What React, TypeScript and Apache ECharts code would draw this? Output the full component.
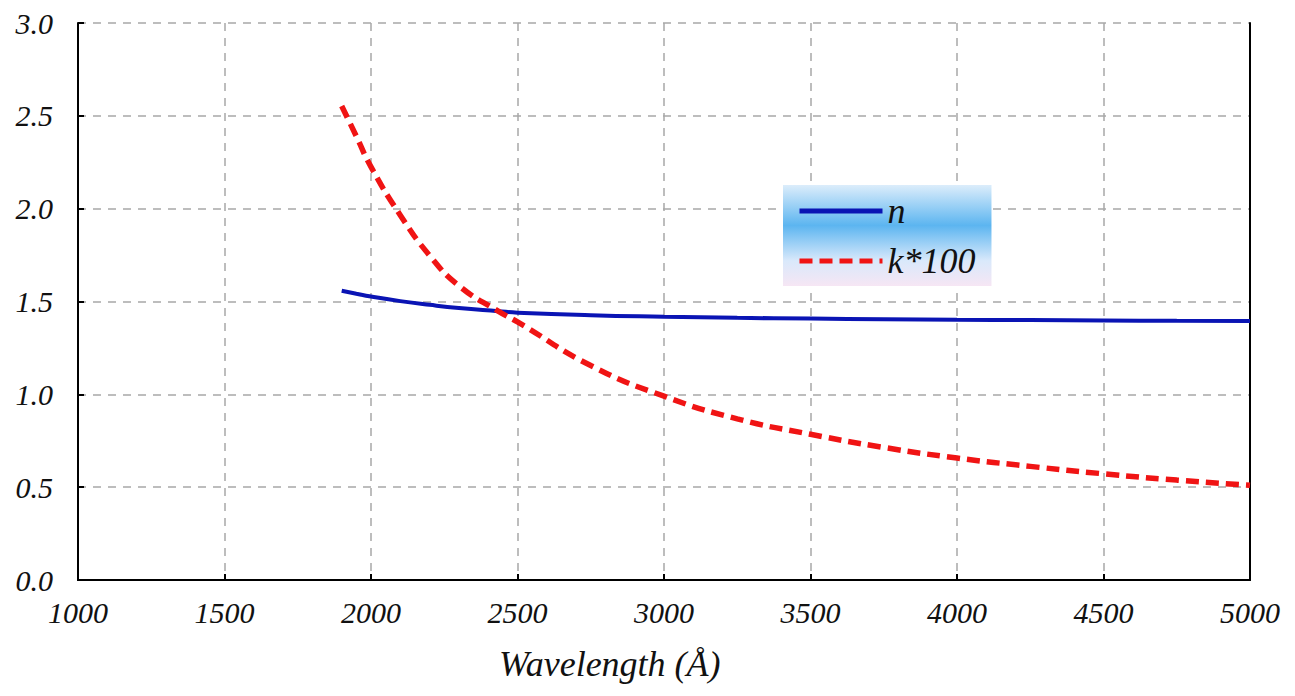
import React, { useEffect, useRef } from "react";
import * as echarts from "echarts";

const wavelengths = [1900, 1950, 2000, 2100, 2200, 2300, 2434, 2500, 2750, 3000, 3250, 3500, 3750, 4000, 4250, 4500, 4750, 5000];
const nValues = [1.558, 1.542, 1.527, 1.502, 1.482, 1.465, 1.448, 1.44, 1.426, 1.418, 1.412, 1.408, 1.405, 1.402, 1.4, 1.398, 1.396, 1.395];
const k100Values = [2.553, 2.39, 2.225, 1.965, 1.748, 1.585, 1.448, 1.39, 1.155, 0.99, 0.868, 0.785, 0.714, 0.657, 0.612, 0.572, 0.538, 0.51];
const seriesNames = ["n", "k*100"];
const xAxisTitle = "Wavelength (Å)";

const FONT = "'Liberation Serif', 'DejaVu Serif', serif";

export default function App() {
  const ref = useRef<HTMLDivElement>(null);
  useEffect(() => {
    if (!ref.current) return;
    const chart = echarts.init(ref.current, undefined, { renderer: "svg" });
    const labelStyle = { fontFamily: FONT, fontStyle: "italic" as const, fontSize: 30, color: "#111" };
    const borderAxis = {
      axisLine: { show: true, lineStyle: { color: "#000", width: 2 } },
      axisTick: { show: false },
      axisLabel: { show: false },
      splitLine: { show: false },
    };
    chart.setOption({
      animation: false,
      backgroundColor: "#fff",
      grid: { left: 78, right: 45, top: 23, bottom: 116 },
      xAxis: [
        {
          type: "value", min: 1000, max: 5000, interval: 500,
          axisLine: { show: true, lineStyle: { color: "#000", width: 2 } },
          axisTick: { show: true, inside: true, length: 6, lineStyle: { color: "#000", width: 2 } },
          axisLabel: { ...labelStyle, margin: 17, formatter: (v: number) => String(v) },
          splitLine: { show: true, lineStyle: { color: "#a8a8a8", width: 1.5, type: [8, 7] } },
        },
        { type: "value", min: 1000, max: 5000, interval: 500, position: "top", ...borderAxis },
      ],
      yAxis: [
        {
          type: "value", min: 0, max: 3, interval: 0.5,
          axisLine: { show: true, lineStyle: { color: "#000", width: 2 } },
          axisTick: { show: true, inside: true, length: 6, lineStyle: { color: "#000", width: 2 } },
          axisLabel: { ...labelStyle, margin: 25, formatter: (v: number) => v.toFixed(1) },
          splitLine: { show: true, lineStyle: { color: "#a8a8a8", width: 1.5, type: [8, 7] } },
        },
        { type: "value", min: 0, max: 3, interval: 0.5, position: "right", ...borderAxis },
      ],
      legend: {
        orient: "vertical",
        left: 783, top: 185,
        padding: [8, 16, 7, 14],
        itemGap: 14,
        itemWidth: 83,
        itemHeight: 14,
        data: seriesNames,
        itemStyle: { opacity: 0 },
        lineStyle: { width: 5 },
        textStyle: { fontFamily: FONT, fontStyle: "italic", fontSize: 36, color: "#111" },
        backgroundColor: new echarts.graphic.LinearGradient(0, 0, 0, 1, [
          { offset: 0, color: "#dcedfb" },
          { offset: 0.4, color: "#5cb5f0" },
          { offset: 0.75, color: "#d9e9fb" },
          { offset: 1, color: "#f6e6f4" },
        ]),
      },
      series: [
        {
          name: seriesNames[0], type: "line", smooth: true, symbol: "none",
          data: wavelengths.map((w, i) => [w, nValues[i]]),
          lineStyle: { color: "#0a14b4", width: 4 },
          itemStyle: { color: "#0a14b4" },
        },
        {
          name: seriesNames[1], type: "line", smooth: true, symbol: "none",
          data: wavelengths.map((w, i) => [w, k100Values[i]]),
          lineStyle: { color: "#f01414", width: 5.5, type: [13, 7] },
          itemStyle: { color: "#f01414" },
        },
      ],
      graphic: [
        {
          type: "text", left: 499, top: 646,
          style: { text: xAxisTitle, font: `italic 36px ${FONT}`, fill: "#111" },
        },
      ],
    });
    return () => chart.dispose();
  }, []);
  return <div ref={ref} style={{ position: "fixed", left: 0, top: 0, width: 1295, height: 696 }} />;
}
